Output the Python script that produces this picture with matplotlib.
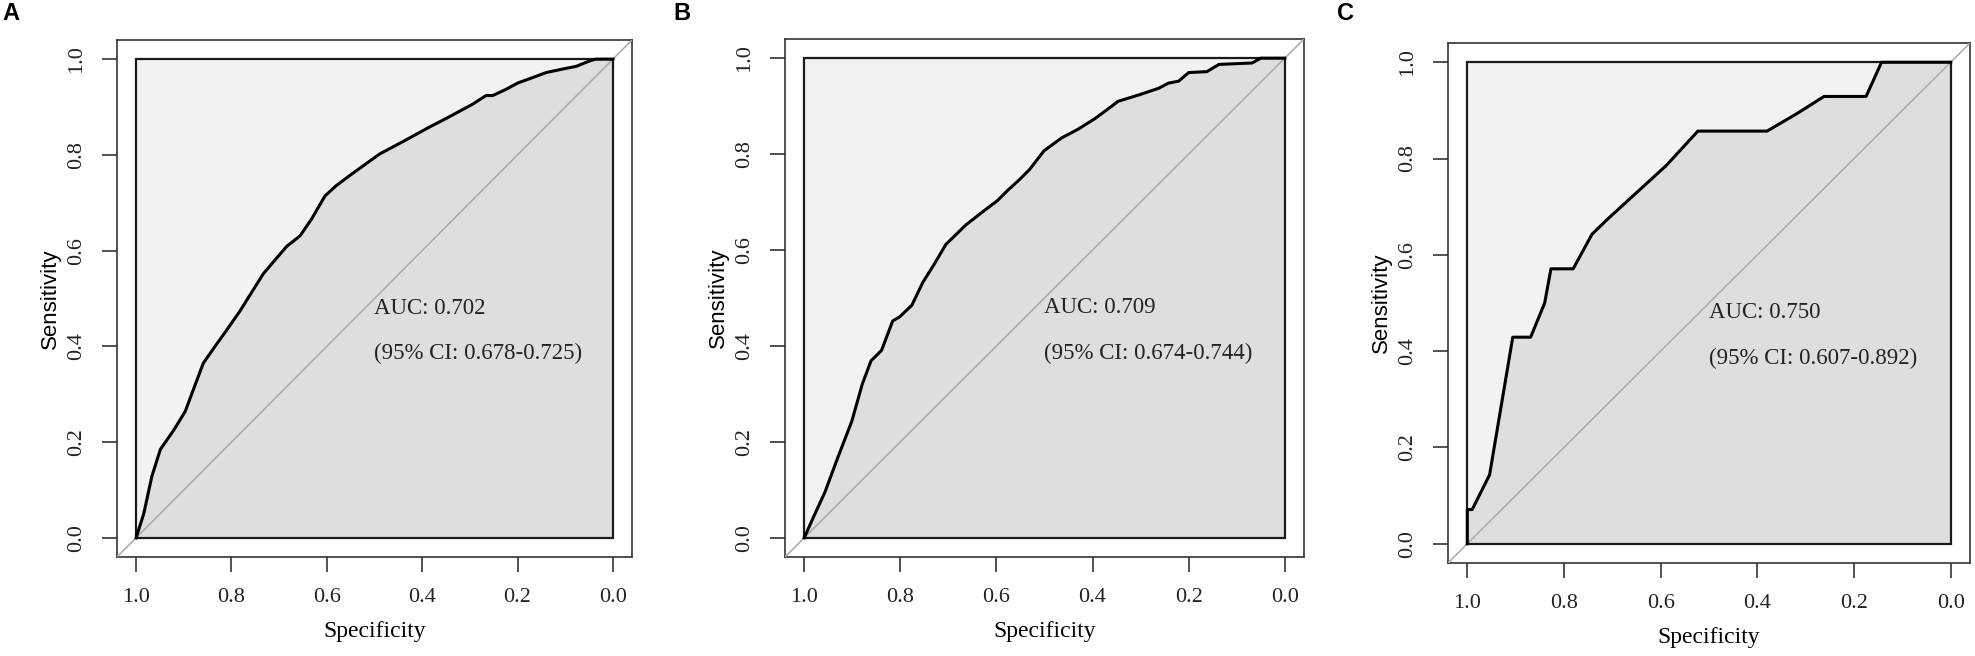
import numpy as np
import matplotlib
matplotlib.use("Agg")
import matplotlib.pyplot as plt
from matplotlib.patches import Rectangle

# ROC curves: specificity (x, reversed axis) and sensitivity (y)
spec_a = [1.0, 0.984, 0.967, 0.949, 0.921, 0.897, 0.879, 0.859, 0.838, 0.810, 0.782,
          0.733, 0.684, 0.656, 0.632, 0.604, 0.580, 0.545, 0.489, 0.440, 0.385, 0.350,
          0.294, 0.266, 0.252, 0.224, 0.200, 0.167, 0.140, 0.107, 0.077, 0.047, 0.036, 0.0]
sens_a = [0.0, 0.050, 0.128, 0.185, 0.225, 0.264, 0.312, 0.365, 0.395, 0.434, 0.474,
          0.552, 0.609, 0.631, 0.666, 0.714, 0.736, 0.762, 0.802, 0.828, 0.858, 0.876,
          0.906, 0.924, 0.924, 0.937, 0.950, 0.962, 0.972, 0.979, 0.985, 0.997, 1.0, 1.0]

spec_b = [1.0, 0.979, 0.957, 0.931, 0.901, 0.879, 0.861, 0.839, 0.816, 0.801, 0.776,
          0.753, 0.731, 0.705, 0.664, 0.627, 0.598, 0.576, 0.553, 0.531, 0.501, 0.464,
          0.430, 0.395, 0.360, 0.347, 0.305, 0.263, 0.242, 0.221, 0.200, 0.162, 0.137,
          0.068, 0.050, 0.0]
sens_b = [0.0, 0.047, 0.095, 0.165, 0.243, 0.321, 0.369, 0.391, 0.452, 0.461, 0.485,
          0.533, 0.568, 0.612, 0.652, 0.681, 0.703, 0.725, 0.746, 0.768, 0.807, 0.834,
          0.852, 0.874, 0.900, 0.910, 0.923, 0.937, 0.948, 0.952, 0.970, 0.972, 0.987,
          0.990, 1.0, 1.0]

spec_c = [1.0, 1.0, 0.990, 0.954, 0.906, 0.869, 0.840, 0.827, 0.781, 0.742, 0.710,
          0.588, 0.523, 0.380, 0.317, 0.262, 0.175, 0.143, 0.0]
sens_c = [0.0, 0.071, 0.071, 0.143, 0.429, 0.429, 0.500, 0.571, 0.571, 0.643, 0.674,
          0.786, 0.857, 0.857, 0.894, 0.929, 0.929, 1.0, 1.0]

panel_letters = ["A", "B", "C"]
auc_text = ["AUC: 0.702", "AUC: 0.709", "AUC: 0.750"]
ci_text = ["(95% CI: 0.678-0.725)", "(95% CI: 0.674-0.744)", "(95% CI: 0.607-0.892)"]
ticks = [0.0, 0.2, 0.4, 0.6, 0.8, 1.0]

curves = [(spec_a, sens_a), (spec_b, sens_b), (spec_c, sens_c)]

# axes boxes in pixels (left, top, right, bottom) of a 1975x656 figure
W, H = 1975, 656
boxes = [(117, 40, 632, 557), (785, 39, 1304, 557), (1448, 43, 1970, 563)]
letter_pos = [(11, 14), (682, 14), (1346, 13)]

serif = "Liberation Serif"

fig = plt.figure(figsize=(W / 100, H / 100), dpi=100)

for i in range(3):
    l, t, r, b = boxes[i]
    ax = fig.add_axes([l / W, 1 - b / H, (r - l) / W, (b - t) / H])
    spec, sens = curves[i]

    ax.add_patch(Rectangle((0, 0), 1, 1, facecolor="#f2f2f2", edgecolor="none", zorder=1))
    ax.fill_between(spec, sens, 0, color="#dedede", lw=0, zorder=2)
    ax.plot([1.1, -0.1], [-0.1, 1.1], color="#a8a8a8", lw=1.1, zorder=3)
    ax.add_patch(Rectangle((0, 0), 1, 1, facecolor="none", edgecolor="#1a1a1a", lw=1.6, zorder=4))
    ax.plot(spec, sens, color="black", lw=2.2, zorder=5, solid_joinstyle="round")

    ax.text(0.5, 0.48, auc_text[i], ha="left", va="center", fontsize=16.5,
            family=serif, color="#222222", zorder=6)
    ax.text(0.5, 0.385, ci_text[i], ha="left", va="center", fontsize=16.5,
            family=serif, color="#222222", zorder=6)

    ax.set_xlim(1.04, -0.04)
    ax.set_ylim(-0.04, 1.04)
    ax.set_xticks(ticks)
    ax.set_yticks(ticks)
    ax.set_xticklabels(["%.1f" % v for v in ticks], family=serif, fontsize=16)
    ax.set_yticklabels(["%.1f" % v for v in ticks], family=serif, fontsize=16,
                       rotation=90, va="center")
    ax.tick_params(direction="out", length=10.5, width=1.1, pad=12, colors="#222222")
    for s in ax.spines.values():
        s.set_linewidth(1.2)
        s.set_color("#333333")

    ax.set_xlabel("Specificity", family=serif, fontsize=17, labelpad=10)
    ax.set_ylabel("Sensitivity", family=["Liberation Sans Narrow", "Liberation Sans"],
                  fontsize=16, labelpad=4)

    fig.text(letter_pos[i][0] / W, 1 - letter_pos[i][1] / H, panel_letters[i],
             family="Liberation Sans", fontweight="bold", fontsize=17,
             ha="center", va="center")

fig.savefig("out.png", dpi=100)
